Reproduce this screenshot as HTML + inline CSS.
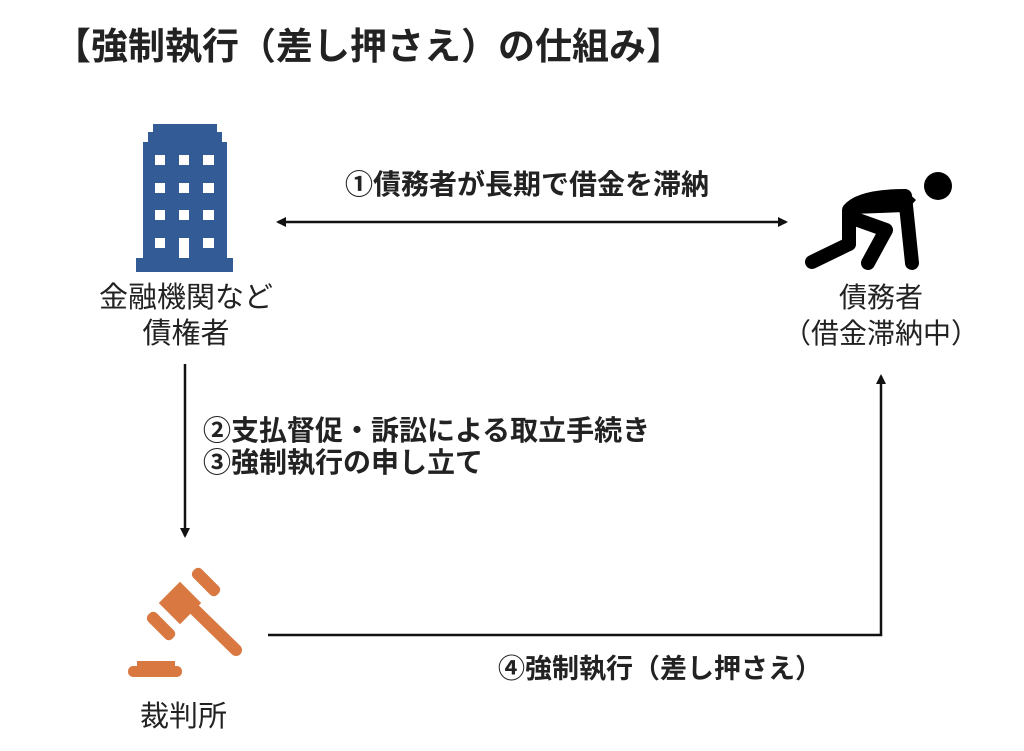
<!DOCTYPE html>
<html><head><meta charset="utf-8"><style>
body{margin:0;width:1024px;height:751px;background:#fff;position:relative;overflow:hidden;font-family:"Liberation Sans","Noto Sans CJK JP",sans-serif;color:#222}
.t{position:absolute;white-space:nowrap}
.b{font-weight:bold}
</style></head><body>
<div class="t b" style="left:54px;top:25px;font-size:37px;line-height:44px">【強制執行（差し押さえ）の仕組み】</div>
<div class="t b" style="left:345px;top:168px;font-size:28px;line-height:34px">①債務者が長期で借金を滞納</div>
<div class="t" style="left:88px;top:280px;font-size:29px;text-align:center;width:196px;line-height:36px">金融機関など<br>債権者</div>
<div class="t" style="left:781px;top:280px;font-size:28px;text-align:center;width:200px;line-height:36px">債務者<br>（借金滞納中）</div>
<div class="t b" style="left:203px;top:415px;font-size:28px;line-height:32px">②支払督促・訴訟による取立手続き<br>③強制執行の申し立て</div>
<div class="t b" style="left:498px;top:652px;font-size:27px;line-height:34px">④強制執行（差し押さえ）</div>
<div class="t" style="left:140px;top:699px;font-size:29px;line-height:36px">裁判所</div>
<svg width="1024" height="751" style="position:absolute;left:0;top:0">
<defs><marker id="a" markerWidth="10" markerHeight="10" refX="8" refY="5" orient="auto-start-reverse" markerUnits="userSpaceOnUse"><path d="M0,0 L10,5 L0,10 z" fill="#111"/></marker></defs>
<g fill="#335c97">
<rect x="153" y="124" width="64" height="10"/><rect x="148" y="132" width="74" height="12"/>
<rect x="143" y="142" width="84" height="120"/><rect x="136" y="258" width="97" height="14"/>
</g>
<g fill="#fff">
<rect x="155" y="155" width="10" height="10"/><rect x="179" y="155" width="10" height="10"/><rect x="203" y="155" width="11" height="10"/>
<rect x="155" y="183" width="10" height="10"/><rect x="179" y="183" width="10" height="10"/><rect x="203" y="183" width="11" height="10"/>
<rect x="155" y="210" width="10" height="10"/><rect x="179" y="210" width="10" height="10"/><rect x="203" y="210" width="11" height="10"/>
<rect x="155" y="238" width="10" height="10"/><rect x="179" y="238" width="10" height="20"/><rect x="203" y="238" width="11" height="10"/>
</g>
<g stroke="#000" stroke-width="14" stroke-linecap="round" stroke-linejoin="round" fill="none">
<path d="M849,244 L849,210 Q860,196 905,196 L912,263"/>
<path d="M849,244 L812,262"/>
<path d="M858,220 L886,230 L868,263"/>
</g>
<path d="M846,205 Q865,188 905,190 L916,200 L905,212 L852,214 z" fill="#000"/>
<circle cx="938" cy="186" r="14" fill="#000"/>
<g fill="#d97941">
<line x1="195" y1="610" x2="236" y2="650" stroke="#d97941" stroke-width="12" stroke-linecap="round"/>
<rect x="-15" y="-15" width="30" height="30" transform="translate(180,603) rotate(45)"/>
<rect x="-17" y="-6" width="34" height="12" rx="5" transform="translate(206,582) rotate(45)"/>
<rect x="-17" y="-6" width="34" height="12" rx="5" transform="translate(161,626) rotate(45)"/>
<rect x="137" y="661" width="38" height="8"/><rect x="128" y="666" width="54" height="11" rx="5"/>
</g>
<g stroke="#111" stroke-width="2.5" fill="none">
<line x1="278" y1="222" x2="786" y2="222" marker-start="url(#a)" marker-end="url(#a)"/>
<line x1="185" y1="364" x2="185" y2="536" marker-end="url(#a)"/>
<polyline points="268,635 881,635 881,376" marker-end="url(#a)"/>
</g>
</svg>
</body></html>
